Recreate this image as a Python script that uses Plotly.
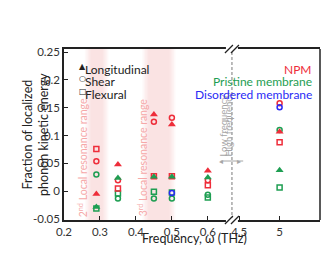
import plotly.graph_objects as go

# frequencies (THz)
freq_low = [0.29, 0.35, 0.45, 0.5, 0.6]
freq_high = [5.0]

# fraction of localized phonon kinetic energy
npm_long_low = [-0.005, 0.048, 0.138, 0.120, 0.037]
npm_long_high = [0.107]
npm_shear_low = [0.054, 0.020, 0.125, 0.132, 0.020]
npm_shear_high = [0.158]
npm_flex_low = [0.076, 0.005, 0.027, 0.027, 0.011]
npm_flex_high = [0.088]

pri_long_low = [-0.028, 0.024, 0.026, 0.026, 0.025]
pri_long_high = [0.038]
pri_shear_low = [0.030, -0.013, -0.013, -0.013, -0.006]
pri_shear_high = [0.110]
pri_flex_low = [-0.031, -0.004, -0.001, -0.002, -0.011]
pri_flex_high = [0.007]

dis_shear_low = [None, None, None, -0.003, None]
dis_shear_high = [0.151]

y_ticks = [-0.05, 0, 0.05, 0.1, 0.15, 0.2, 0.25]
y_ticktext = ["-0.05", "0", "0.05", "0.1", "0.15", "0.2", "0.25"]
x_ticks_low = [0.2, 0.3, 0.4, 0.5, 0.6]
x_ticks_high = [4.5, 5, 5.5]

RED = "#ee2d3a"
GREEN = "#1e9e52"
BLUE = "#2a2af5"
PINK = "#f6a8a8"
GRAY = "#a6a6a6"
FONT = "Lato"
BREAK = 0.656

symbols = {
    "long": dict(symbol="triangle-up", size=7),
    "shear": dict(symbol="circle-open", size=5, line=dict(width=1.5)),
    "flex": dict(symbol="square-open", size=5, line=dict(width=1.5)),
}

series = [
    (pri_shear_low, pri_shear_high, "shear", GREEN),
    (pri_flex_low, pri_flex_high, "flex", GREEN),
    (npm_long_low, npm_long_high, "long", RED),
    (npm_shear_low, npm_shear_high, "shear", RED),
    (npm_flex_low, npm_flex_high, "flex", RED),
    (pri_long_low, pri_long_high, "long", GREEN),
    (dis_shear_low, dis_shear_high, "shear", BLUE),
]

fig = go.Figure()
for low, high, kind, color in series:
    marker = dict(symbols[kind], color=color)
    fig.add_trace(go.Scatter(x=freq_low, y=low, mode="markers", marker=marker,
                             showlegend=False, xaxis="x", yaxis="y"))
    fig.add_trace(go.Scatter(x=freq_high, y=high, mode="markers", marker=marker,
                             showlegend=False, xaxis="x2", yaxis="y"))

# local resonance bands, soft edges built from stacked rects
bands = [(0.274, 0.308), (0.434, 0.494)]
shapes = []
for x0, x1 in bands:
    for k in range(5):
        pad = 0.004 * k
        shapes.append(dict(type="rect", xref="x", yref="paper", x0=x0 - pad, x1=x1 + pad,
                           y0=0, y1=1, fillcolor=PINK, opacity=0.07, line_width=0,
                           layer="below"))

# right border, break line and break marks
shapes.append(dict(type="line", xref="paper", yref="paper", x0=1, x1=1, y0=0, y1=1,
                   line=dict(color="#222", width=1.5)))
shapes.append(dict(type="line", xref="paper", yref="paper", x0=BREAK, x1=BREAK, y0=0, y1=1,
                   line=dict(color=GRAY, width=1.5, dash="3px,2px")))
for yb in (0, 1):
    shapes.append(dict(type="rect", xref="paper", yref="paper", xsizemode="pixel",
                       ysizemode="pixel", xanchor=BREAK, yanchor=yb, x0=-6, x1=6, y0=-2, y1=2,
                       fillcolor="white", line_width=0))
    for dx in (-3, 3):
        shapes.append(dict(type="line", xref="paper", yref="paper", xsizemode="pixel",
                           ysizemode="pixel", xanchor=BREAK, yanchor=yb,
                           x0=dx - 4, x1=dx + 4, y0=-4, y1=4,
                           line=dict(color="#222", width=1.3)))
# low / high frequency arrows
for x_tip in (0.612, 0.700):
    shapes.append(dict(type="line", xref="paper", yref="paper", x0=BREAK, x1=x_tip,
                       y0=0.345, y1=0.345, line=dict(color=GRAY, width=1)))

txt = dict(family=FONT, size=12)
annotations = [
    dict(text="2<sup>nd</sup> Local resonance range", x=0.25, y=0.061, xref="x", yref="y",
         textangle=-90, showarrow=False, font=dict(family=FONT, size=10.5, color=PINK)),
    dict(text="3<sup>rd</sup> Local resonance range", x=0.417, y=0.061, xref="x", yref="y",
         textangle=-90, showarrow=False, font=dict(family=FONT, size=10.5, color=PINK)),
    dict(text="Low frequency", x=0.621, y=0.36, xref="paper", yref="paper", yanchor="bottom",
         textangle=-90, showarrow=False, font=dict(family=FONT, size=9.5, color=GRAY)),
    dict(text="High frequency", x=0.67, y=0.36, xref="paper", yref="paper", yanchor="bottom",
         textangle=-90, showarrow=False, font=dict(family=FONT, size=9.5, color=GRAY)),
    dict(text="◂", x=0.612, y=0.345, xref="paper", yref="paper", showarrow=False,
         font=dict(family="DejaVu Sans", size=8, color=GRAY)),
    dict(text="▸", x=0.700, y=0.345, xref="paper", yref="paper", showarrow=False,
         font=dict(family="DejaVu Sans", size=8, color=GRAY)),
    dict(text="NPM", x=0.977, y=0.936, xref="paper", yref="paper", xanchor="right",
         showarrow=False, font=dict(txt, color=RED)),
    dict(text="Pristine membrane", x=0.977, y=0.865, xref="paper", yref="paper",
         xanchor="right", showarrow=False, font=dict(txt, color=GREEN)),
    dict(text="Disordered membrane", x=0.977, y=0.789, xref="paper", yref="paper",
         xanchor="right", showarrow=False, font=dict(txt, color=BLUE)),
    dict(text="Fraction of localized<br>phonon kinetic energy", x=-0.18, y=0.5,
         xref="paper", yref="paper", textangle=-90, showarrow=False,
         font=dict(family=FONT, size=12.5, color="#222")),
    dict(text="Frequency, ω (THz)", x=0.51, y=-0.165, xref="paper", yref="paper",
         showarrow=False, font=dict(family=FONT, size=12.5, color="#222")),
]

legend_items = [("▲", "Longitudinal", 0.936), ("○", "Shear", 0.865), ("□", "Flexural", 0.789)]
for sym, label, yp in legend_items:
    annotations.append(dict(text="<b>%s</b>" % sym, x=0.05, y=yp, xref="paper", yref="paper",
                            showarrow=False, font=dict(family="DejaVu Sans", size=8, color="#222")))
    annotations.append(dict(text=label, x=0.076, y=yp, xref="paper", yref="paper",
                            xanchor="left", showarrow=False, font=dict(txt, color="#222")))

axis_style = dict(showline=True, linecolor="#222", linewidth=1.5, ticks="inside", ticklen=4,
                  tickcolor="#222", showgrid=False, zeroline=False,
                  tickfont=dict(family=FONT, size=11.5, color="#333"))

fig.update_layout(
    width=327,
    height=271,
    margin=dict(l=64, r=7, t=49, b=51),
    plot_bgcolor="white",
    paper_bgcolor="white",
    xaxis=dict(axis_style, domain=[0, BREAK], range=[0.2, 0.667], tickvals=x_ticks_low,
               ticktext=[str(v) for v in x_ticks_low], mirror=True, anchor="y"),
    xaxis2=dict(axis_style, domain=[BREAK, 1], range=[4.41, 5.5], tickvals=x_ticks_high,
                ticktext=["4.5", "5", "5.5"], mirror=True, anchor="y"),
    yaxis=dict(axis_style, range=[-0.0515, 0.2555], tickvals=y_ticks, ticktext=y_ticktext),
    shapes=shapes,
    annotations=annotations,
)

fig.write_html("out.html", config={"displayModeBar": False},
               post_script="document.body.style.margin = '0';")
